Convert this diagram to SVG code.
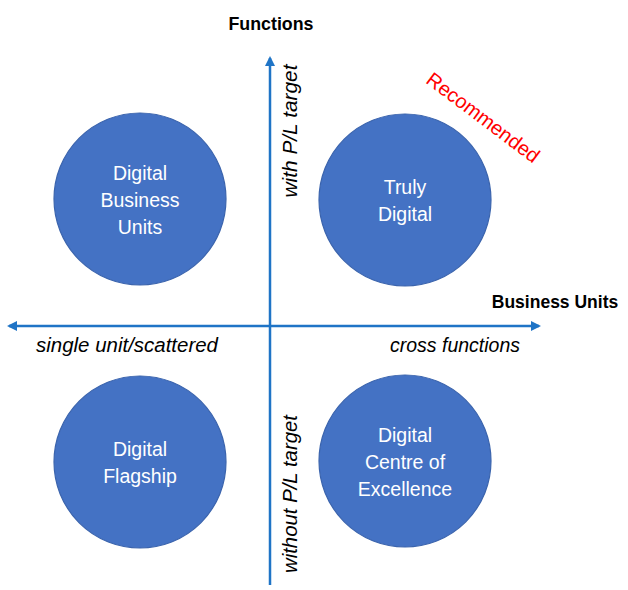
<svg xmlns="http://www.w3.org/2000/svg" width="628" height="590" viewBox="0 0 628 590">
<style>
.c{fill:#4472c4;stroke:#3b64ad;stroke-width:1.2}
.ct{font-family:"Liberation Sans",Arial,sans-serif;font-size:19.5px;fill:#ffffff;text-anchor:middle}
.ax{stroke:#1f74c6;stroke-width:2.5;fill:none}
.bl{font-family:"Liberation Sans",Arial,sans-serif;font-size:19px;font-weight:bold;fill:#000;text-anchor:middle}
.it{font-family:"Liberation Sans",Arial,sans-serif;font-size:20px;font-style:italic;fill:#000;text-anchor:middle}
.rec{font-family:"Liberation Sans",Arial,sans-serif;font-size:20px;fill:#ff0000;text-anchor:middle}
</style>
<defs>
<marker id="ah" viewBox="0 0 10 10" refX="8" refY="5" markerWidth="4" markerHeight="4" orient="auto-start-reverse">
<path d="M0,0 L10,5 L0,10 z" fill="#1f74c6"/>
</marker>
</defs>
<g id="connectors">
<line class="ax" x1="270" y1="585" x2="270" y2="58" marker-end="url(#ah)"/>
<line class="ax" x1="9" y1="326" x2="539" y2="326" marker-start="url(#ah)" marker-end="url(#ah)"/>
</g>
<g id="axis-labels">
<text class="bl" x="271" y="30" textLength="85" lengthAdjust="spacingAndGlyphs">Functions</text>
<text class="bl" x="555" y="308" style="font-size:17.5px">Business Units</text>
<text class="it" x="127" y="352" textLength="182" lengthAdjust="spacingAndGlyphs">single unit/scattered</text>
<text class="it" x="455" y="352" textLength="130" lengthAdjust="spacingAndGlyphs">cross functions</text>
<text class="it" transform="translate(297,131) rotate(-90)" textLength="133" lengthAdjust="spacingAndGlyphs">with P/L target</text>
<text class="it" transform="translate(297,494) rotate(-90)" textLength="158" lengthAdjust="spacingAndGlyphs">without P/L target</text>
<text class="rec" transform="translate(479,123) rotate(37)">Recommended</text>
</g>
<g id="digital-business-units">
<circle class="c" cx="140" cy="199" r="86"/>
<text class="ct" x="140" y="180">Digital</text>
<text class="ct" x="140" y="207">Business</text>
<text class="ct" x="140" y="234">Units</text>
</g>
<g id="truly-digital">
<circle class="c" cx="405" cy="200" r="86"/>
<text class="ct" x="405" y="194">Truly</text>
<text class="ct" x="405" y="221">Digital</text>
</g>
<g id="digital-flagship">
<circle class="c" cx="140" cy="462" r="86"/>
<text class="ct" x="140" y="456">Digital</text>
<text class="ct" x="140" y="483">Flagship</text>
</g>
<g id="digital-coe">
<circle class="c" cx="405" cy="461" r="86"/>
<text class="ct" x="405" y="442">Digital</text>
<text class="ct" x="405" y="469">Centre of</text>
<text class="ct" x="405" y="496">Excellence</text>
</g>
</svg>
